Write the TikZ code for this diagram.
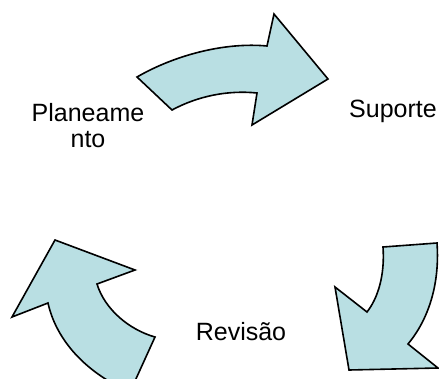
\documentclass[tikz,border=0pt]{standalone}
\usepackage{fontspec}
\setmainfont{Liberation Sans}
\definecolor{arrowfill}{RGB}{185,223,227}
\begin{document}
\begin{tikzpicture}[x=1pt, y=-1pt,
  cyclearrow/.style={fill=arrowfill, draw=black, line width=1.6pt, line join=miter},
  label/.style={font=\fontsize{25}{25.5}\selectfont, inner sep=0pt, align=center, anchor=base}]
  \useasboundingbox (0,0) rectangle (439,378);
  \begin{scope}
    \clip (0,0) rectangle (439,378);
    % planning -> support
    \draw[cyclearrow] (137,77) .. controls (175,55) and (225,42) .. (267,46)
      -- (274,14) -- (328,79) -- (252,125) -- (257,93)
      .. controls (228,90) and (198,96) .. (172,110) -- cycle;
    % support -> review
    \draw[cyclearrow] (383,247) .. controls (385,275) and (378,298) .. (367,312)
      -- (335,287) -- (349,370) -- (438,368) -- (408,344)
      .. controls (428,320) and (440,285) .. (437,243) -- cycle;
    % review -> planning
    \draw[cyclearrow] (55,240) -- (135,270) -- (97,284)
      .. controls (105,310) and (130,330) .. (155,337) -- (130,392)
      .. controls (80,370) and (55,335) .. (48,303) -- (12,317) -- cycle;
  \end{scope}
  % the base anchor of a two-line label sits on its last line
  \node[label] (plan) at (88,147) {Planeame\\nto};
  \node[label] (sup) at (393,117) {Suporte};
  \node[label] (rev) at (241,340) {Revisão};
\end{tikzpicture}
\end{document}
